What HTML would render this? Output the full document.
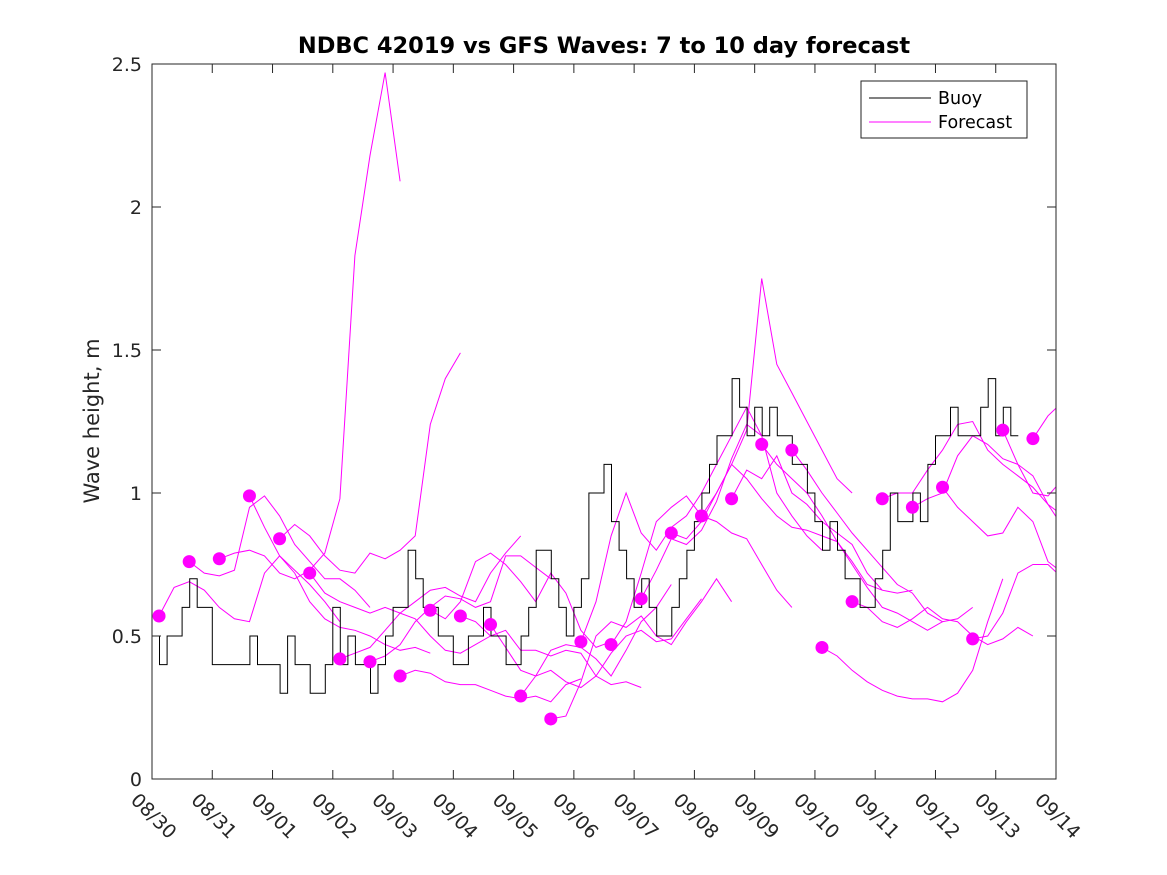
<!DOCTYPE html>
<html><head><meta charset="utf-8"><style>
body{margin:0;background:#fff}
svg{display:block;font-family:"DejaVu Sans","Liberation Sans",sans-serif}
</style></head><body>
<svg id="chart" width="1167" height="875" viewBox="0 0 1167 875">
<rect width="1167" height="875" fill="#fff"/>
<text x="604" y="53" text-anchor="middle" font-size="22.5" font-weight="bold">NDBC 42019 vs GFS Waves: 7 to 10 day forecast</text>
<text transform="translate(99,421) rotate(-90)" text-anchor="middle" font-size="21" fill="#262626">Wave height, m</text>
<g id="clip-defs"><defs><clipPath id="pc"><rect x="152" y="64" width="904" height="715"/></clipPath></defs></g>
<g id="fc" clip-path="url(#pc)"></g>
<g id="buoy" clip-path="url(#pc)"></g>
<g id="dots"></g>
<g id="axes"></g>
<g>
<rect x="861" y="81" width="166" height="57" fill="#fff" stroke="#222" stroke-width="1"/>
<line x1="869" y1="98" x2="931" y2="98" stroke="#000" stroke-width="1"/>
<text x="938" y="104" font-size="17.5">Buoy</text>
<line x1="869" y1="122" x2="931" y2="122" stroke="#f0f" stroke-width="1"/>
<text x="938" y="128" font-size="17.5">Forecast</text>
</g>
</svg>
<script>
const xTickLabels=["08/30","08/31","09/01","09/02","09/03","09/04","09/05","09/06","09/07","09/08","09/09","09/10","09/11","09/12","09/13","09/14"];
const yTicks=[0,0.5,1,1.5,2,2.5];
const yTickLabels=["0","0.5","1","1.5","2","2.5"];
const dotValues=[0.57,0.76,0.77,0.99,0.84,0.72,0.42,0.41,0.36,0.59,0.57,0.54,0.29,0.21,0.48,0.47,0.63,0.86,0.92,0.98,1.17,1.15,0.46,0.62,0.98,0.95,1.02,0.49,1.22,1.19];
const forecastStartDay=0.117, forecastSpacingDays=0.5, forecastStepDays=0.25;
const forecastValues=[
[.57,.67,.69,.66,.6,.56,.55,.72,.78,.73,.68,.62,.55],
[.76,.72,.71,.73,.95,.99,.92,.82,.76,.7,.7,.66,.6],
[.77,.79,.80,.78,.72,.7,.73,.79,.98,1.83,2.18,2.47,2.09],
[.99,.88,.78,.72,.62,.56,.53,.52,.5,.47,.45,.46,.44],
[.84,.89,.85,.78,.73,.72,.79,.77,.8,.85,1.24,1.4,1.49],
[.72,.65,.62,.6,.58,.6,.58,.56,.5,.45,.44,.47,.5],
[.42,.44,.46,.52,.58,.62,.66,.67,.64,.62,.72,.79,.85],
[.41,.43,.47,.55,.6,.64,.63,.6,.62,.78,.78,.74,.7],
[.36,.38,.37,.34,.33,.33,.31,.29,.28,.29,.27,.33,.35],
[.59,.56,.62,.76,.79,.75,.69,.62,.72,.65,.52,.46,.48],
[.57,.55,.5,.52,.45,.45,.43,.45,.44,.36,.33,.34,.32],
[.54,.46,.38,.36,.45,.47,.46,.42,.36,.45,.55,.6,.68],
[.29,.36,.38,.34,.32,.36,.44,.5,.52,.48,.49,.56,.63],
[.21,.22,.34,.5,.55,.53,.57,.5,.47,.55,.62,.7,.62],
[.48,.62,.85,1.0,.86,.8,.88,.92,1.0,1.1,1.2,1.3,1.2],
[.47,.55,.72,.9,.95,.99,.92,.9,.86,.84,.75,.66,.6],
[.63,.73,.84,.82,.87,.97,1.12,1.24,1.2,1.0,.92,.85,.8],
[.86,.84,.9,1.0,1.1,1.22,1.75,1.45,1.35,1.25,1.15,1.05,1.0],
[.92,1.0,1.1,1.05,.98,.92,.88,.87,.85,.83,.76,.68,.66],
[.98,1.08,1.05,1.13,1.0,.96,.9,.86,.82,.72,.66,.65,.66],
[1.17,1.1,1.05,1.0,.92,.83,.75,.67,.6,.58,.55,.52,.55],
[1.15,1.08,1.0,.93,.86,.8,.74,.68,.65,.58,.55,.56,.6],
[.46,.43,.38,.34,.31,.29,.28,.28,.27,.3,.38,.55,.7],
[.62,.6,.55,.53,.56,.6,.56,.55,.5,.47,.49,.53,.5],
[.98,1.0,1.0,1.08,1.15,1.24,1.25,1.15,1.1,1.06,1.02,.96,.92],
[.95,.98,1.0,1.13,1.2,1.17,1.12,1.1,1.06,.96,.88,.82,.8],
[1.02,.95,.9,.85,.86,.95,.9,.76,.72,.7,.64,.63,.72],
[.49,.5,.58,.72,.75,.75,.7,.62,.6,.62,.66,.7,.72],
[1.22,1.1,1.0,.99,1.05,1.18,1.26,1.28,1.2,1.1,1.0,.95,.9],
[1.19,1.27,1.32,1.33,1.3,1.25,1.2,1.15,1.1,1.05,1.0,.95,.9]];
const buoyStepDays=0.125;
const buoyValues=[.5,.4,.5,.5,.6,.7,.6,.6, .4,.4,.4,.4,.4,.5,.4,.4, .4,.3,.5,.4,.4,.3,.3,.4, .6,.4,.5,.4,.4,.3,.4,.5,
.6,.6,.8,.7,.6,.6,.5,.5, .4,.4,.5,.5,.6,.5,.5,.4, .4,.5,.6,.8,.8,.7,.6,.5, .6,.7,1.0,1.0,1.1,.9,.8,.7,
.6,.7,.6,.5,.5,.6,.7,.8, .9,1.0,1.1,1.2,1.2,1.4,1.3,1.2, 1.3,1.2,1.3,1.2,1.2,1.1,1.1,1.0, .9,.8,.9,.8,.7,.7,.6,.6,
.7,.8,1.0,.9,.9,1.0,.9,1.1, 1.2,1.2,1.3,1.2,1.2,1.2,1.3,1.4, 1.2,1.3,1.2];

const X0=152,X1=1056,Y0=779,Y1=64,DAYS=15,YMAX=2.5;
const xs=d=>X0+(X1-X0)*d/DAYS;
const ys=v=>Y0-(Y0-Y1)*v/YMAX;
const NS="http://www.w3.org/2000/svg";
function mk(tag,attrs,parent){const e=document.createElementNS(NS,tag);for(const k in attrs)e.setAttribute(k,attrs[k]);parent.appendChild(e);return e;}

const fc=document.getElementById('fc');
forecastValues.forEach((s,i)=>{
  const t0=forecastStartDay+i*forecastSpacingDays;
  const pts=s.map((v,j)=>xs(t0+j*forecastStepDays).toFixed(1)+","+ys(v).toFixed(1)).join(" ");
  const p=mk('polyline',{points:pts,fill:"none",stroke:"#f0f","stroke-width":1},fc);
  
  
});
const bg=document.getElementById('buoy');
let bp=[];
buoyValues.forEach((v,j)=>{bp.push(xs(j*buoyStepDays).toFixed(1)+","+ys(v).toFixed(1));bp.push(xs((j+1)*buoyStepDays).toFixed(1)+","+ys(v).toFixed(1));});
const bl=mk('polyline',{points:bp.join(" "),fill:"none",stroke:"#000","stroke-width":1},bg);


const dg=document.getElementById('dots');
dotValues.forEach((v,i)=>{
  const c=mk('circle',{cx:xs(forecastStartDay+i*forecastSpacingDays),cy:ys(v),r:6.5,fill:"#f0f"},dg);
  
  
});
const ax=document.getElementById('axes');
const fr=mk('rect',{x:X0,y:Y1,width:X1-X0,height:Y0-Y1,fill:"none",stroke:"#262626","stroke-width":1},ax);


xTickLabels.forEach((l,i)=>{
  const x=xs(i);
  mk('line',{x1:x,y1:Y0,x2:x,y2:Y0-9,stroke:"#262626"},ax);
  mk('line',{x1:x,y1:Y1,x2:x,y2:Y1+9,stroke:"#262626"},ax);
  const t=mk('text',{transform:`translate(${x-13},${792}) rotate(45)`,"font-size":19,fill:"#262626"},ax);
  t.setAttribute('dy','13');
  t.textContent=l;
  
  
});
yTicks.forEach((v,i)=>{
  const y=ys(v);
  mk('line',{x1:X0,y1:y,x2:X0+9,y2:y,stroke:"#262626"},ax);
  mk('line',{x1:X1,y1:y,x2:X1-9,y2:y,stroke:"#262626"},ax);
  const t=mk('text',{x:X0-10,y:y+7,"text-anchor":"end","font-size":19,fill:"#262626"},ax);
  t.textContent=yTickLabels[i];
  
  
});
</script>
</body></html>
